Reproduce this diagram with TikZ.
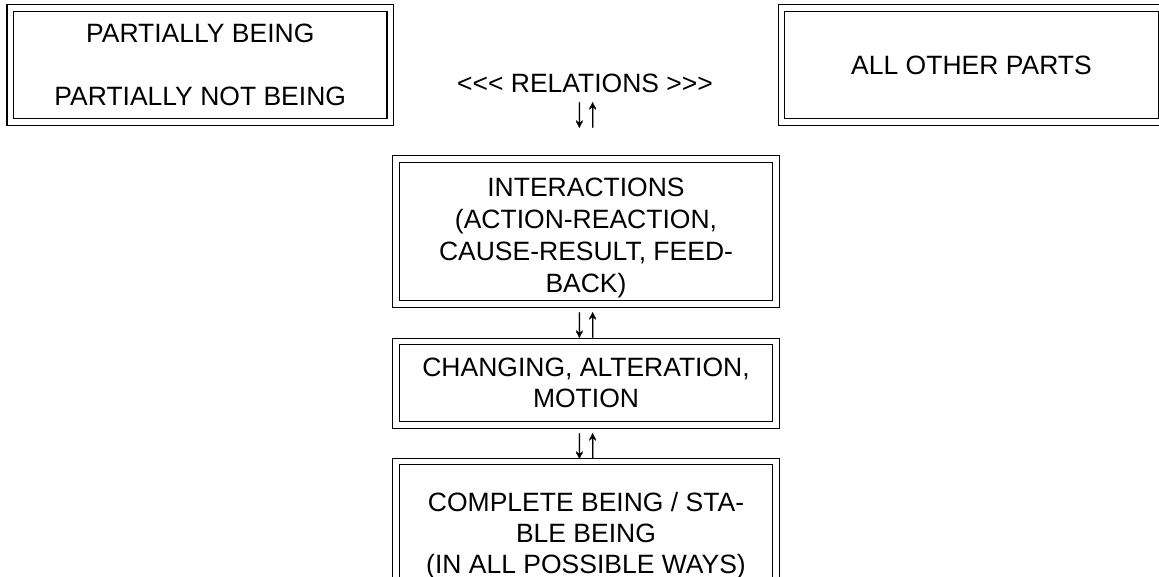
\documentclass[tikz,border=0pt]{standalone}
\usepackage{graphicx}
\usepackage{fontspec}
\setmainfont{Liberation Sans}
\newfontfamily\arrowfont{Liberation Sans}[FakeBold=0.6]
\newcommand{\updn}{\scalebox{1}[1.6]{\arrowfont ↓↑}}
\begin{document}
\begin{tikzpicture}[x=1pt,y=-1pt,
  dbox/.style={draw, line width=1.1pt, double, double distance=5.4pt, rectangle,
    inner sep=0pt, align=center, minimum width=380pt,
    font=\fontsize{26.5}{31}\selectfont},
  txt/.style={inner sep=0pt, align=center, font=\fontsize{26.5}{31}\selectfont}]
\useasboundingbox (0,0) rectangle (1159,576);
\node[dbox, minimum height=114pt] (b1) at (200.25,65) {PARTIALLY BEING\\[32.5pt]PARTIALLY NOT BEING};
\node[dbox, minimum height=114pt] (b2) at (971.5,65) {ALL OTHER PARTS};
\node[txt] (rel) at (585,83) {<\kern0pt<\kern0pt< RELATIONS >\kern0pt>\kern0pt>};
\node[txt] (a1) at (586,115) {\updn};
\node[dbox, minimum height=145pt, font=\fontsize{26.5}{32}\selectfont] (b3) at (586,231.5) {\rule{0pt}{32pt}INTERACTIONS\\(ACTION-REACTION,\\CAUSE-RESULT, FEED-\\BACK)};
\node[txt] (a2) at (586,325) {\updn};
\node[dbox, minimum height=83.5pt] (b4) at (586,383.25) {CHANGING, ALTERATION,\\MOTION};
\node[txt] (a3) at (586,446) {\updn};
\node[dbox, minimum height=148pt] (b5) at (586,535.5) {COMPLETE BEING / STA-\\BLE BEING\\(IN ALL POSSIBLE WAYS)};
\end{tikzpicture}
\end{document}
